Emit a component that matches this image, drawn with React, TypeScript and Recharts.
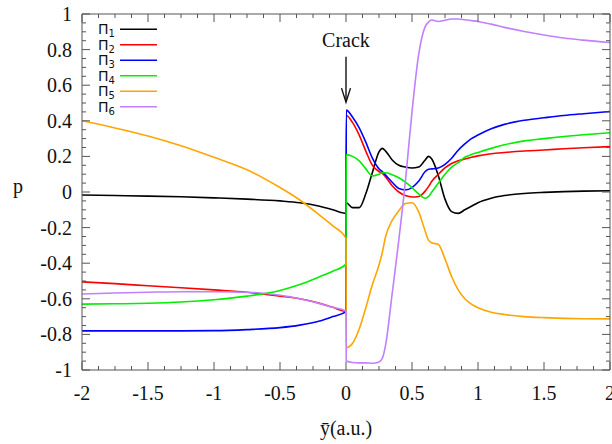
import React from 'react';
import { LineChart, Line, XAxis, YAxis, ReferenceLine, Legend } from 'recharts';

// grid of y-bar positions: left of the crack, then right of it
const xs = [
  -2, -1.75, -1.5, -1.25, -1, -0.75, -0.5, -0.35, -0.2, -0.1, 0,
  0.002, 0.05, 0.1, 0.15, 0.2, 0.25, 0.275, 0.3, 0.35, 0.4, 0.45, 0.5, 0.55, 0.6, 0.625, 0.65,
  0.7, 0.75, 0.8, 0.85, 0.9, 0.95, 1, 1.1, 1.2, 1.35, 1.5, 1.65, 1.8, 2,
];

const pi1 = [
  -0.017, -0.02, -0.023, -0.027, -0.033, -0.04, -0.05, -0.06, -0.08, -0.1, -0.12,
  -0.06, -0.088, -0.088, -0.01, 0.11, 0.225, 0.245, 0.23, 0.18, 0.15, 0.14, 0.135, 0.14, 0.18, 0.2, 0.185,
  0.09, -0.04, -0.11, -0.12, -0.1, -0.08, -0.06, -0.035, -0.02, -0.008, -0.002, 0.002, 0.005, 0.007,
];
const pi2 = [
  -0.505, -0.515, -0.527, -0.538, -0.55, -0.563, -0.585, -0.6, -0.625, -0.648, -0.67,
  0.43, 0.39, 0.32, 0.23, 0.15, 0.115, 0.105, 0.085, 0.035, 0.0, -0.02, -0.028, -0.025, 0.005, 0.03, 0.06,
  0.1, 0.135, 0.16, 0.175, 0.185, 0.195, 0.203, 0.215, 0.222, 0.23, 0.236, 0.243, 0.249, 0.255,
];
const pi3 = [
  -0.78, -0.78, -0.78, -0.78, -0.779, -0.773, -0.762, -0.748, -0.725, -0.7, -0.672,
  0.46, 0.42, 0.36, 0.28, 0.19, 0.13, 0.115, 0.095, 0.055, 0.02, 0.012, 0.025, 0.06, 0.115, 0.128, 0.13,
  0.135, 0.155, 0.19, 0.235, 0.27, 0.3, 0.32, 0.355, 0.38, 0.403, 0.417, 0.43, 0.44, 0.452,
];
const pi4 = [
  -0.63, -0.628, -0.625, -0.618, -0.605, -0.585, -0.553, -0.52, -0.476, -0.445, -0.405,
  0.21, 0.2, 0.175, 0.13, 0.09, 0.1, 0.108, 0.108, 0.097, 0.08, 0.055, 0.025, -0.01, -0.035, -0.025, 0.0,
  0.05, 0.1, 0.14, 0.165, 0.195, 0.21, 0.222, 0.245, 0.265, 0.287, 0.3, 0.312, 0.322, 0.333,
];
const pi5 = [
  0.4, 0.36, 0.315, 0.26, 0.195, 0.125, 0.025, -0.045, -0.13, -0.19, -0.26,
  -0.875, -0.85, -0.77, -0.65, -0.52, -0.41, -0.34, -0.25, -0.16, -0.105, -0.065, -0.06, -0.11, -0.22, -0.27, -0.285,
  -0.295, -0.376, -0.475, -0.55, -0.6, -0.63, -0.65, -0.675, -0.688, -0.7, -0.706, -0.71, -0.712, -0.713,
];
const pi6 = [
  -0.573, -0.567, -0.563, -0.56, -0.56, -0.563, -0.58, -0.6, -0.627, -0.648, -0.67,
  -0.95, -0.958, -0.96, -0.96, -0.962, -0.955, -0.935, -0.86, -0.57, -0.27, 0.06, 0.45, 0.77, 0.929, 0.955, 0.966,
  0.958, 0.965, 0.972, 0.972, 0.968, 0.963, 0.958, 0.943, 0.925, 0.902, 0.882, 0.865, 0.853, 0.84,
];

const xMajor = [-2, -1.5, -1, -0.5, 0, 0.5, 1, 1.5, 2];
const yMajor = [-1, -0.8, -0.6, -0.4, -0.2, 0, 0.2, 0.4, 0.6, 0.8, 1];

// crack arrow, in data units
const crackX = 0;
const crackFrom = 0.76;
const crackTo = 0.505;

const series = [
  { key: 'p1', color: '#000000', values: pi1 },
  { key: 'p2', color: '#ff0000', values: pi2 },
  { key: 'p3', color: '#0000ff', values: pi3 },
  { key: 'p4', color: '#00ee00', values: pi4 },
  { key: 'p5', color: '#ffa500', values: pi5 },
  { key: 'p6', color: '#c080ff', values: pi6 },
];

const data = xs.map((x, i) => {
  const row: Record<string, number> = { x };
  series.forEach(s => { row[s.key] = s.values[i]; });
  return row;
});

// minor ticks: 4 per major step
const subdivide = (majors: number[]) => {
  const out: number[] = [];
  for (let i = 0; i < majors.length - 1; i++) {
    const a = majors[i], b = majors[i + 1];
    for (let k = 0; k < 4; k++) out.push(Math.round((a + ((b - a) * k) / 4) * 1000) / 1000);
  }
  out.push(majors[majors.length - 1]);
  return out;
};
const xTicks = subdivide(xMajor);
const yTicks = subdivide(yMajor);

const axisColor = '#555';
const font = 'Liberation Serif, Times New Roman, serif';

const makeXTick = (side: 'top' | 'bottom') => (props: any) => {
  const { x, y, payload } = props;
  const major = xMajor.includes(payload.value);
  const len = major ? 8 : 4;
  const dir = side === 'top' ? 1 : -1;
  return (
    <g>
      <line x1={x} x2={x} y1={y} y2={y + dir * len} stroke={axisColor} strokeWidth={1} />
      {major && side === 'bottom' && (
        <text x={x} y={y + 30} textAnchor="middle" fontFamily={font} fontSize={20} fill="#111">
          {String(payload.value)}
        </text>
      )}
    </g>
  );
};

const makeYTick = (side: 'left' | 'right') => (props: any) => {
  const { x, y, payload } = props;
  const major = yMajor.includes(payload.value);
  const len = major ? 8 : 4;
  const dir = side === 'left' ? 1 : -1;
  return (
    <g>
      <line x1={x} x2={x + dir * len} y1={y} y2={y} stroke={axisColor} strokeWidth={1} />
      {major && side === 'left' && (
        <text x={x - 10} y={y + 7} textAnchor="end" fontFamily={font} fontSize={20} fill="#111">
          {String(payload.value)}
        </text>
      )}
    </g>
  );
};

const LegendBox = () => (
  <svg width={170} height={120} style={{ display: 'block' }}>
    {series.map((s, i) => {
      const y = 29.3 + i * 15.5;
      return (
        <g key={s.key}>
          <text x={98} y={y + 5} fontFamily="DejaVu Sans, sans-serif" fontSize={14} fill="#111">
            Π<tspan fontSize={10} dy={3}>{i + 1}</tspan>
          </text>
          <line x1={120} x2={157} y1={y} y2={y} stroke={s.color} strokeWidth={1.6} />
        </g>
      );
    })}
  </svg>
);

const CrackArrow = (p: any) => {
  const { x1, y1, x2, y2 } = p;
  return (
    <g>
      <text x={x1} y={y1 - 10} textAnchor="middle" fontFamily={font} fontSize={20} fill="#111">
        Crack
      </text>
      <line x1={x1} y1={y1} x2={x2} y2={y2} stroke="#111" strokeWidth={1.4} />
      <polyline
        points={`${x2 - 4.5},${y2 - 14} ${x2},${y2} ${x2 + 4.5},${y2 - 14}`}
        fill="none"
        stroke="#111"
        strokeWidth={1.4}
      />
    </g>
  );
};

export default function App() {
  return (
    <div style={{ position: 'absolute', left: 0, top: 0, width: 612, height: 444, background: '#fff' }}>
      <LineChart width={612} height={444} data={data} margin={{ top: 4, right: 1, bottom: 44, left: 22 }}>
        <XAxis
          dataKey="x"
          type="number"
          domain={[-2, 2]}
          ticks={xTicks}
          interval={0}
          height={30}
          tickSize={0}
          tickMargin={0}
          allowDataOverflow
          stroke={axisColor}
          tick={makeXTick('bottom')}
          label={{ value: 'ȳ(a.u.)', position: 'bottom', offset: 21, fontFamily: font, fontSize: 20, fill: '#111' }}
        />
        <XAxis
          xAxisId="top"
          orientation="top"
          dataKey="x"
          type="number"
          domain={[-2, 2]}
          ticks={xTicks}
          interval={0}
          height={10}
          tickSize={0}
          tickMargin={0}
          allowDataOverflow
          stroke={axisColor}
          tick={makeXTick('top')}
        />
        <YAxis
          type="number"
          domain={[-1, 1]}
          ticks={yTicks}
          interval={0}
          width={60}
          tickSize={0}
          tickMargin={0}
          allowDataOverflow
          stroke={axisColor}
          tick={makeYTick('left')}
          label={{ value: 'p', position: 'insideLeft', offset: -9, dy: -6, fontFamily: font, fontSize: 20, fill: '#111' }}
        />
        <YAxis
          yAxisId="right"
          orientation="right"
          type="number"
          domain={[-1, 1]}
          ticks={yTicks}
          interval={0}
          width={1}
          tickSize={0}
          tickMargin={0}
          allowDataOverflow
          stroke={axisColor}
          tick={makeYTick('right')}
        />
        <Legend
          layout="horizontal"
          verticalAlign="middle"
          align="center"
          wrapperStyle={{ left: 0, top: 0, width: 170, height: 120 }}
          content={() => <LegendBox />}
        />
        {series.map(s => (
          <Line
            key={s.key}
            dataKey={s.key}
            type="monotone"
            stroke={s.color}
            strokeWidth={1.6}
            dot={false}
            activeDot={false}
            isAnimationActive={false}
          />
        ))}
        <ReferenceLine
          segment={[{ x: crackX, y: crackFrom }, { x: crackX, y: crackTo }]}
          shape={CrackArrow}
          ifOverflow="visible"
        />
      </LineChart>
    </div>
  );
}
